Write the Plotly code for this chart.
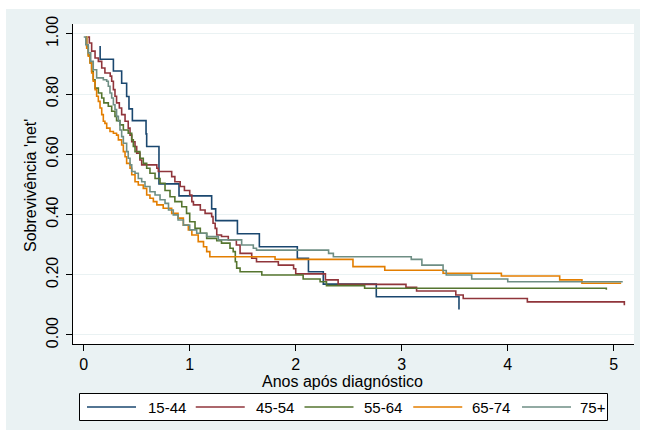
import plotly.graph_objects as go

# ---- data ----
groups = ["15-44", "45-54", "55-64", "65-74", "75+"]
colors = ["#1a476f", "#90353b", "#55752f", "#e37e00", "#6e8e84"]

t_1544 = [0.155, 0.155, 0.28, 0.358, 0.405, 0.427, 0.459, 0.588, 0.594, 0.71, 0.899,
          1.207, 1.245, 1.45, 1.657, 2.015, 2.12, 2.26, 2.76, 3.54]
s_1544 = [0.96, 0.916, 0.877, 0.836, 0.792, 0.751, 0.712, 0.668, 0.626, 0.502, 0.462,
          0.419, 0.38, 0.336, 0.293, 0.255, 0.21, 0.169, 0.127, 0.085]

t_4554 = [0.04, 0.053, 0.075, 0.107, 0.138, 0.17, 0.2, 0.25, 0.264, 0.28, 0.295, 0.31,
          0.336, 0.358, 0.39, 0.42, 0.437, 0.453, 0.484, 0.5, 0.53, 0.547, 0.69, 0.704,
          0.83, 0.86, 0.91, 0.95, 1.0, 1.02, 1.035, 1.1, 1.145, 1.207, 1.22, 1.24, 1.255,
          1.30, 1.364, 1.44, 1.475, 1.585, 1.63, 1.836, 1.98, 2.0, 2.28, 2.40, 3.04, 3.14,
          3.51, 3.58, 4.185, 5.1]
s_4554 = [0.99, 0.97, 0.943, 0.92, 0.909, 0.887, 0.87, 0.86, 0.843, 0.815, 0.793, 0.771,
          0.754, 0.732, 0.71, 0.687, 0.664, 0.642, 0.626, 0.604, 0.581, 0.565, 0.554, 0.543,
          0.526, 0.509, 0.493, 0.48, 0.465, 0.443, 0.432, 0.415, 0.404, 0.393, 0.371, 0.354,
          0.332, 0.327, 0.316, 0.299, 0.271, 0.255, 0.243, 0.232, 0.22, 0.203, 0.183, 0.168,
          0.158, 0.146, 0.133, 0.121, 0.11, 0.099]

t_5564 = [0.02, 0.028, 0.043, 0.06, 0.075, 0.09, 0.107, 0.138, 0.17, 0.19, 0.232, 0.264,
          0.295, 0.31, 0.342, 0.374, 0.42, 0.453, 0.468, 0.484, 0.53, 0.562, 0.594, 0.625,
          0.673, 0.72, 0.767, 0.814, 0.86, 0.925, 0.97, 1.0, 1.05, 1.1, 1.16, 1.255, 1.30,
          1.38, 1.41, 1.43, 1.443, 1.475, 1.68, 2.07, 2.23, 2.29, 2.65, 4.93]
s_5564 = [0.99, 0.96, 0.93, 0.904, 0.876, 0.848, 0.82, 0.804, 0.787, 0.771, 0.76, 0.743,
          0.726, 0.712, 0.698, 0.681, 0.67, 0.648, 0.626, 0.609, 0.587, 0.57, 0.554, 0.537,
          0.52, 0.504, 0.48, 0.459, 0.443, 0.426, 0.404, 0.376, 0.354, 0.338, 0.321, 0.313,
          0.305, 0.288, 0.277, 0.243, 0.222, 0.21, 0.199, 0.186, 0.177, 0.164, 0.155, 0.15]

t_6574 = [0.02, 0.028, 0.043, 0.06, 0.075, 0.09, 0.107, 0.122, 0.138, 0.154, 0.17, 0.185,
          0.2, 0.217, 0.248, 0.28, 0.31, 0.327, 0.358, 0.374, 0.39, 0.405, 0.437, 0.453,
          0.484, 0.515, 0.562, 0.594, 0.625, 0.657, 0.69, 0.75, 0.83, 0.89, 0.94, 0.987,
          1.02, 1.08, 1.13, 1.16, 1.19, 1.805, 2.54, 2.84, 3.39, 3.94, 4.49, 4.70, 5.07]
s_6574 = [0.99, 0.953, 0.926, 0.904, 0.87, 0.843, 0.815, 0.793, 0.776, 0.754, 0.732, 0.71,
          0.703, 0.687, 0.676, 0.67, 0.664, 0.648, 0.631, 0.609, 0.592, 0.57, 0.554, 0.532,
          0.509, 0.498, 0.487, 0.465, 0.454, 0.443, 0.432, 0.421, 0.404, 0.388, 0.365, 0.349,
          0.332, 0.31, 0.293, 0.277, 0.26, 0.251, 0.227, 0.215, 0.205, 0.196, 0.183, 0.172,
          0.172]

t_75 = [0.0, 0.02, 0.043, 0.066, 0.09, 0.122, 0.185, 0.217, 0.232, 0.248, 0.264, 0.28,
        0.295, 0.31, 0.327, 0.342, 0.358, 0.374, 0.405, 0.42, 0.437, 0.453, 0.484, 0.515,
        0.547, 0.578, 0.625, 0.673, 0.72, 0.767, 0.8, 0.845, 0.89, 0.94, 1.0, 1.066, 1.16,
        1.27, 1.49, 1.6, 1.63, 2.31, 2.355, 3.09, 3.19, 3.39, 3.42, 3.66, 4.0, 5.085]
s_75 = [0.99, 0.964, 0.937, 0.909, 0.881, 0.854, 0.848, 0.843, 0.826, 0.804, 0.787, 0.765,
        0.749, 0.726, 0.71, 0.681, 0.659, 0.637, 0.609, 0.587, 0.565, 0.543, 0.537, 0.52,
        0.509, 0.493, 0.476, 0.465, 0.449, 0.437, 0.415, 0.399, 0.382, 0.365, 0.349, 0.338,
        0.327, 0.316, 0.299, 0.288, 0.282, 0.271, 0.26, 0.251, 0.232, 0.214, 0.199, 0.186,
        0.177, 0.177]

series_t = [t_1544, t_4554, t_5564, t_6574, t_75]
series_s = [s_1544, s_4554, s_5564, s_6574, s_75]

x_ticks = [0, 1, 2, 3, 4, 5]
y_ticks = [0.0, 0.2, 0.4, 0.6, 0.8, 1.0]
y_ticklabels = ["0.00", "0.20", "0.40", "0.60", "0.80", "1.00"]

FONT = "Liberation Sans, Arial, sans-serif"
BG = "#EAF2F3"

fig = go.Figure()
for name, col, tt, ss in zip(groups, colors, series_t, series_s):
    fig.add_trace(go.Scatter(x=tt, y=ss, mode="lines", name=name, showlegend=False,
                             line=dict(color=col, width=1.6, shape="hv")))

W, H = 645, 435
L, R, T, B = 73, 11, 24, 91
pw, ph = W - L - R, H - T - B


def px_x(x):
    return (x - L) / pw


def px_y(y):
    return (H - B - y) / ph


shapes = [
    dict(type="rect", xref="paper", yref="paper", layer="below",
         x0=px_x(6), x1=px_x(640), y0=px_y(430), y1=px_y(9),
         fillcolor=BG, line=dict(width=0)),
    dict(type="rect", xref="paper", yref="paper", layer="below",
         x0=0, x1=1, y0=0, y1=1, fillcolor="white", line=dict(width=0)),
    # legend box
    dict(type="rect", xref="paper", yref="paper", layer="above",
         x0=px_x(79.5), x1=px_x(607.5), y0=px_y(420.5), y1=px_y(393.5),
         fillcolor="white", line=dict(color="black", width=1)),
]
annotations = [
    dict(text="Anos após diagnóstico", xref="paper", yref="paper",
         x=px_x(342), y=px_y(381), xanchor="center", yanchor="middle",
         showarrow=False, font=dict(family=FONT, size=16, color="black")),
    dict(text="Sobrevivência 'net'", xref="paper", yref="paper",
         x=px_x(30), y=px_y(186), xanchor="center", yanchor="middle",
         textangle=-90, showarrow=False,
         font=dict(family=FONT, size=16, color="black")),
]

# legend entries (one row, sample line + label)
leg_y = 407
line_start, line_pitch, line_len = 87, 108.75, 49
text_start, text_pitch = 146, 107.9
for i, (name, col) in enumerate(zip(groups, colors)):
    x0 = line_start + i * line_pitch
    shapes.append(dict(type="line", xref="paper", yref="paper", layer="above",
                       x0=px_x(x0), x1=px_x(x0 + line_len), y0=px_y(leg_y), y1=px_y(leg_y),
                       line=dict(color=col, width=1.6)))
    annotations.append(dict(text=name, xref="paper", yref="paper",
                            x=px_x(text_start + i * text_pitch), y=px_y(leg_y),
                            xanchor="left", yanchor="middle", showarrow=False,
                            font=dict(family=FONT, size=15, color="black")))

fig.update_layout(
    width=W, height=H,
    margin=dict(l=L, r=R, t=T, b=B, pad=0, autoexpand=False),
    paper_bgcolor="white", plot_bgcolor="white",
    font=dict(family=FONT, size=16, color="black"),
    showlegend=False,
    xaxis=dict(range=[-0.101, 5.191], tickvals=x_ticks, ticks="outside", ticklen=6,
               tickcolor="black", showline=True, linecolor="black", linewidth=1,
               showgrid=False, zeroline=False, automargin=False,
               tickfont=dict(family=FONT, size=16, color="black")),
    yaxis=dict(range=[-0.030, 1.033], tickvals=y_ticks, ticktext=y_ticklabels,
               tickangle=-90, ticks="outside", ticklen=6, tickcolor="black",
               showline=True, linecolor="black", linewidth=1, automargin=False,
               ticklabelstandoff=2,
               showgrid=True, gridcolor=BG, gridwidth=1.2, zeroline=False,
               tickfont=dict(family=FONT, size=16, color="black")),
    shapes=shapes,
    annotations=annotations,
)

fig.write_html("out.html", config={"displayModeBar": False},
               post_script="document.body.style.margin='0px';")
